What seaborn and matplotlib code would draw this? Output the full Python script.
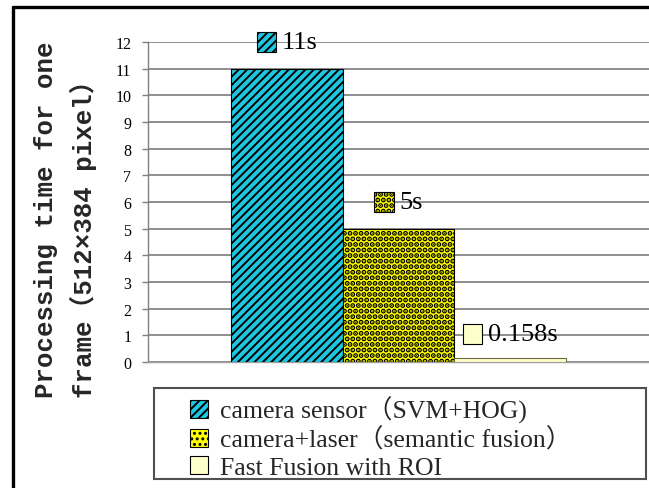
import matplotlib
matplotlib.use("Agg")
import matplotlib.pyplot as plt
import seaborn as sns
import pandas as pd
from matplotlib.patches import Patch, Rectangle
from matplotlib.lines import Line2D
from matplotlib.offsetbox import DrawingArea, TextArea, HPacker, AnnotationBbox

# ---- data ----
methods = ["camera sensor（SVM+HOG)", "camera+laser（semantic fusion）", "Fast Fusion with ROI"]
times = [11, 5, 0.158]
value_labels = ["11s", "5s", "0.158s"]
label_heights = [12, 6, 1.05]
yticks = list(range(0, 13))
colors = ["#1ec6e2", "#ffff00", "#ffffcc"]
hatches = ["////", "...", ""]
hatch_lw = [1.4, 2.6, 1.0]

sns.set_theme(style="white")
plt.rcParams["hatch.linewidth"] = 1.4
serif = ["Liberation Serif", "Noto Sans CJK SC"]

df = pd.DataFrame({"group": ["g"] * 3, "method": methods, "time": times})

fig = plt.figure(figsize=(6.49, 4.89), dpi=100)
W, H = 649, 489
ax = fig.add_axes([148 / W, 1 - 363 / H, 1 - 148 / W, (363 - 43) / H])

sns.barplot(data=df, x="group", y="time", hue="method", hue_order=methods,
            palette=colors, width=0.667, gap=0, dodge=True, saturation=1,
            edgecolor="black", linewidth=0.8, legend=False, ax=ax, zorder=3)


def style_patch(p, h, lw):
    p.set_hatch(h)
    if hasattr(p, "set_hatch_linewidth"):
        p.set_hatch_linewidth(lw)


for cont, h, lw in zip(ax.containers, hatches, hatch_lw):
    for p in cont:
        style_patch(p, h, lw)
ax.containers[2][0].set_edgecolor("#6b6b40")

ax.set_xlim(-0.5, 0.5)
ax.set_ylim(0, 12)
ax.set_yticks(yticks)
ax.set_yticklabels([str(t) for t in yticks], fontsize=11.5, family=serif)
ax.set_xticks([])
ax.set_xlabel("")
ax.set_ylabel("")
ax.yaxis.grid(True, color="#707070", linewidth=1.1, zorder=0)
ax.set_axisbelow(True)
ax.tick_params(axis="y", left=True, length=4, width=1, color="#808080", pad=8, labelcolor="black")
for s in ["top", "right"]:
    ax.spines[s].set_visible(False)
ax.spines["left"].set_color("#808080")
ax.spines["bottom"].set_color("#a0a0a0")
ax.spines["left"].set_linewidth(1.0)
ax.spines["bottom"].set_linewidth(1.0)
ax.set_facecolor("white")

# value labels with legend keys
for cont, lab, yh, c, h, lw in zip(ax.containers, value_labels, label_heights, colors, hatches, hatch_lw):
    p = cont[0]
    xc = p.get_x() + p.get_width() / 2
    da = DrawingArea(14, 14, 0, 0)
    r = Rectangle((0, 0), 14, 14, facecolor=c, edgecolor="black", lw=0.8)
    style_patch(r, h, lw)
    da.add_artist(r)
    ta = TextArea(lab, textprops=dict(fontsize=19, family=serif, color="black"))
    box = HPacker(children=[da, ta], align="center", pad=0, sep=4)
    ab = AnnotationBbox(box, (xc, yh), xycoords="data", frameon=False,
                        box_alignment=(0.5, 0.5), pad=0, zorder=5)
    ax.add_artist(ab)

# legend
handles = []
for c, h, lw in zip(colors, hatches, hatch_lw):
    hp = Patch(facecolor=c, edgecolor="black", lw=0.8)
    style_patch(hp, h, lw)
    handles.append(hp)
fig.patches.append(Rectangle((154 / W, 1 - 480 / H), (646 - 154) / W, (480 - 389) / H,
                             transform=fig.transFigure, fill=False, edgecolor="#505050", lw=1.5))
fig.legend(handles, methods, loc="upper left", bbox_to_anchor=(190 / W, 1 - 397 / H),
           frameon=False, borderpad=0, borderaxespad=0, handlelength=0.7, handleheight=0.7,
           handletextpad=0.45, labelspacing=0.15, prop=dict(family=serif, size=18.5))

# y-axis label (two lines)
mono = ["Liberation Mono", "Noto Sans CJK SC"]
fig.text(46 / W, 1 - 398 / H, "Processing time for one", rotation=90, ha="center", va="bottom",
         fontsize=18.5, family=mono, fontweight="bold")
fig.text(83 / W, 1 - 398 / H, "frame（512×384 pixel）", rotation=90, ha="center", va="bottom",
         fontsize=18.5, family=mono, fontweight="bold")

# outer frame lines
fig.add_artist(Line2D([13 / W, 13 / W], [0, 1 - 8 / H], transform=fig.transFigure, color="black", lw=2.4))
fig.add_artist(Line2D([13 / W, 1], [1 - 8 / H, 1 - 8 / H], transform=fig.transFigure, color="black", lw=2.4))

fig.savefig("out.png", dpi=100)
